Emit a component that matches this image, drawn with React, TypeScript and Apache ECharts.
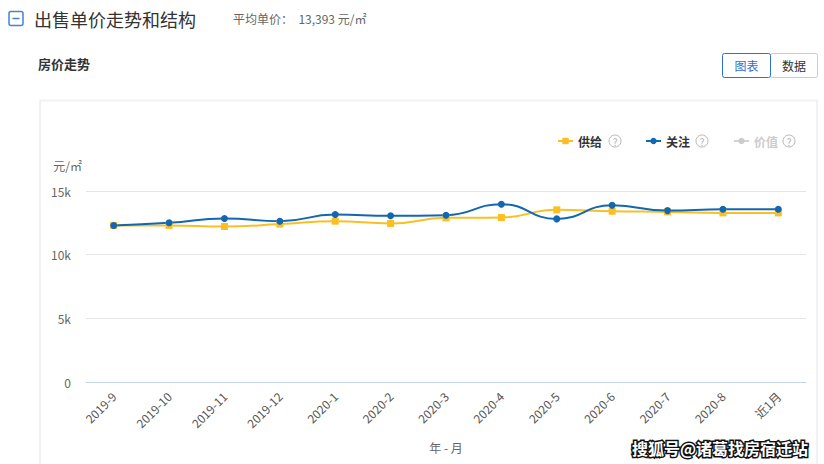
import React, { useEffect, useRef } from "react";
import * as echarts from "echarts";

const categories = ["2019-9", "2019-10", "2019-11", "2019-12", "2020-1", "2020-2", "2020-3", "2020-4", "2020-5", "2020-6", "2020-7", "2020-8", "近1月"];
const supplyValues = [12290, 12300, 12210, 12400, 12630, 12450, 12890, 12920, 13520, 13410, 13360, 13280, 13280];
const attentionValues = [12290, 12500, 12840, 12630, 13150, 13050, 13100, 13960, 12810, 13880, 13460, 13570, 13570];
const valueValues: number[] = [];
const yTicks = { min: 0, max: 15000, interval: 5000 };

const FONT = '"Noto Sans CJK SC", "Noto Sans", sans-serif';

export default function App() {
  const ref = useRef<HTMLDivElement>(null);
  useEffect(() => {
    document.body.style.margin = "0";
    const chart = echarts.init(ref.current!, null, { renderer: "svg" });
    const qCircle = (cx: number) => [
      { type: "circle", shape: { cx, cy: 141, r: 6 }, style: { fill: "none", stroke: "#b8b8b8", lineWidth: 1 } },
      { type: "text", x: cx, y: 141.5, style: { text: "?", fill: "#b0b0b0", font: `10px ${FONT}`, align: "center", verticalAlign: "middle" } },
    ];
    chart.setOption({
      animation: false,
      textStyle: { fontFamily: FONT },
      graphic: [
        { type: "rect", shape: { x: 40, y: 100.5, width: 777, height: 400 }, style: { fill: "none", stroke: "#f2f2f2", lineWidth: 2 } },
        { type: "rect", shape: { x: 9, y: 11.5, width: 14, height: 14, r: 2 }, style: { fill: "none", stroke: "#4a80d6", lineWidth: 1.5 } },
        { type: "line", shape: { x1: 12.5, y1: 18.5, x2: 19.5, y2: 18.5 }, style: { stroke: "#4a80d6", lineWidth: 1.5 } },
        { type: "text", x: 34, y: 18.5, style: { text: "出售单价走势和结构", fill: "#333", font: `18px ${FONT}`, verticalAlign: "middle" } },
        { type: "text", x: 233, y: 18.5, style: { text: "平均单价：  13,393 元/㎡", fill: "#666", font: `12px ${FONT}`, verticalAlign: "middle" } },
        { type: "text", x: 38, y: 63, style: { text: "房价走势", fill: "#333", font: `bold 13px ${FONT}`, verticalAlign: "middle" } },
        { type: "rect", shape: { x: 770.5, y: 53.5, width: 47, height: 24, r: 2 }, style: { fill: "#fff", stroke: "#cccccc", lineWidth: 1 } },
        { type: "rect", shape: { x: 722.5, y: 53.5, width: 48, height: 24, r: 2 }, style: { fill: "#fff", stroke: "#2f6fcf", lineWidth: 1 } },
        { type: "text", x: 746.5, y: 65.5, style: { text: "图表", fill: "#2f6fcf", font: `12px ${FONT}`, align: "center", verticalAlign: "middle" } },
        { type: "text", x: 794, y: 65.5, style: { text: "数据", fill: "#333", font: `12px ${FONT}`, align: "center", verticalAlign: "middle" } },
        ...qCircle(615),
        ...qCircle(702),
        ...qCircle(789),
        { type: "text", x: 808, y: 448, style: { text: "搜狐号@诸葛找房宿迁站", fill: "#fff", stroke: "#111", lineWidth: 3, font: `bold 16px ${FONT}`, align: "right", verticalAlign: "middle" } },
      ],
      legend: {
        left: 552,
        top: 130,
        itemWidth: 15,
        itemHeight: 8,
        itemGap: 43,
        textStyle: { color: "#333", fontSize: 12, fontFamily: FONT, fontWeight: "bold" },
        inactiveColor: "#cccccc",
        data: ["供给", "关注", "价值"],
        selected: { "价值": false },
      },
      grid: { left: 86, right: 18, top: 191, bottom: 82 },
      xAxis: {
        type: "category",
        data: categories,
        boundaryGap: true,
        name: "年 - 月",
        nameLocation: "middle",
        nameGap: 59,
        nameTextStyle: { color: "#666", fontSize: 12 },
        axisLine: { lineStyle: { color: "#c5d4ea" } },
        axisTick: { lineStyle: { color: "#c5d4ea" }, length: 9 },
        axisLabel: { rotate: 45, color: "#555", fontSize: 12, margin: 12, interval: 0 },
      },
      yAxis: {
        type: "value",
        min: yTicks.min,
        max: yTicks.max,
        interval: yTicks.interval,
        name: "元/㎡",
        nameGap: 20,
        nameTextStyle: { color: "#666", fontSize: 12, align: "right", padding: [0, 4, 0, 0] },
        axisLine: { show: false },
        axisTick: { show: false },
        splitLine: { lineStyle: { color: "#e6e6e6" } },
        axisLabel: { color: "#666", fontSize: 12, margin: 15, formatter: (v: number) => (v === 0 ? "0" : v / 1000 + "k") },
      },
      series: [
        {
          name: "供给", type: "line", smooth: true, data: supplyValues,
          symbol: "rect", symbolSize: 7, showSymbol: true,
          itemStyle: { color: "#fbbf24" }, lineStyle: { color: "#fbbf24", width: 2 },
        },
        {
          name: "关注", type: "line", smooth: true, data: attentionValues,
          symbol: "circle", symbolSize: 7, showSymbol: true,
          itemStyle: { color: "#1167b1" }, lineStyle: { color: "#1167b1", width: 2 },
        },
        {
          name: "价值", type: "line", smooth: true, data: valueValues,
          symbol: "circle", symbolSize: 7,
          itemStyle: { color: "#cccccc" }, lineStyle: { color: "#cccccc", width: 2 },
        },
      ],
    });
    return () => chart.dispose();
  }, []);
  return <div ref={ref} style={{ width: 824, height: 464 }} />;
}
